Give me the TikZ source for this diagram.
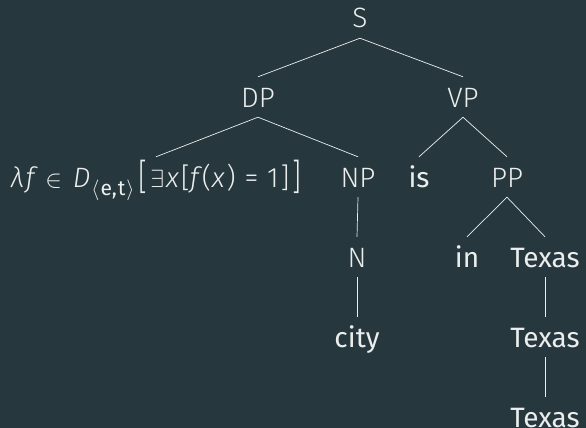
\documentclass[tikz,border=0pt]{standalone}
\usepackage{fontspec}
\setmainfont{Fira Sans}
\newfontfamily\light{Fira Sans Light}
\usetikzlibrary{positioning}
\definecolor{slate}{RGB}{38,56,61}
\definecolor{chalk}{RGB}{236,238,238}
\newcommand{\bigbrk}[1]{\raisebox{-2pt}{\scalebox{1}[1.3]{#1}}}

\begin{document}
\begin{tikzpicture}[x=1pt,y=-1pt,
  every node/.style={text=chalk,font=\fontsize{28}{34}\selectfont,text height=20pt,text depth=0pt,inner sep=10pt},
  cat/.style={font=\fontsize{28}{34}\selectfont\light},
  word/.style={font=\fontsize{28}{34}\selectfont},
  branch/.style={draw=chalk,line width=0.7pt}]
\fill [slate] (0,0) rectangle (586,428);
\useasboundingbox (0,0) rectangle (586,428);
\node [cat] (s) at (360,18) {S};
\node [cat] (dp) at (258,97) {DP};
\node [cat] (vp) at (463,97) {VP};
\node [cat] (lam) at (156,177) {{\itshape λ\kern2pt f}\kern3pt\ $\in$\ \kern3pt{\itshape D}\kern1pt\raisebox{-8pt}{\fontsize{21}{21}\selectfont\normalfont$\langle$\kern1pt e,\kern1pt t\kern1pt$\rangle$}\kern4pt\bigbrk{[}\kern3pt$\exists$\kern2pt{\itshape x}\kern2pt[{\itshape f}\kern3pt(\kern1pt{\itshape x}\kern2pt)\kern1pt\ =\ \kern1pt1\kern2pt]\kern3pt\bigbrk{]}};
\node [cat] (np) at (358,177) {NP};
\node [word] (is) at (419,177) {is};
\node [cat] (pp) at (507,177) {PP};
\node [cat] (n) at (357,257) {N};
\node [word] (in) at (467,257) {in};
\node [word] (tx) at (545,257) {Texas};
\node [word] (city) at (357,337) {city};
\node [word] (tx2) at (545,337) {Texas};
\node [word] (tx3) at (545,417) {Texas};
% branches
\draw [branch] (s.south) -- (dp.north);
\draw [branch] (s.south) -- (vp.north);
\draw [branch] (dp.south) -- (lam.north);
\draw [branch] (dp.south) -- (np.north);
\draw [branch] (vp.south) -- (is.north);
\draw [branch] (vp.south) -- (pp.north);
\draw [branch] (np.south) -- (n.north);
\draw [branch] (n.south) -- (city.north);
\draw [branch] (pp.south) -- (in.north);
\draw [branch] (pp.south) -- (tx.north);
\draw [branch] (tx.south) -- (tx2.north);
\draw [branch] (tx2.south) -- (tx3.north);
\end{tikzpicture}
\end{document}
